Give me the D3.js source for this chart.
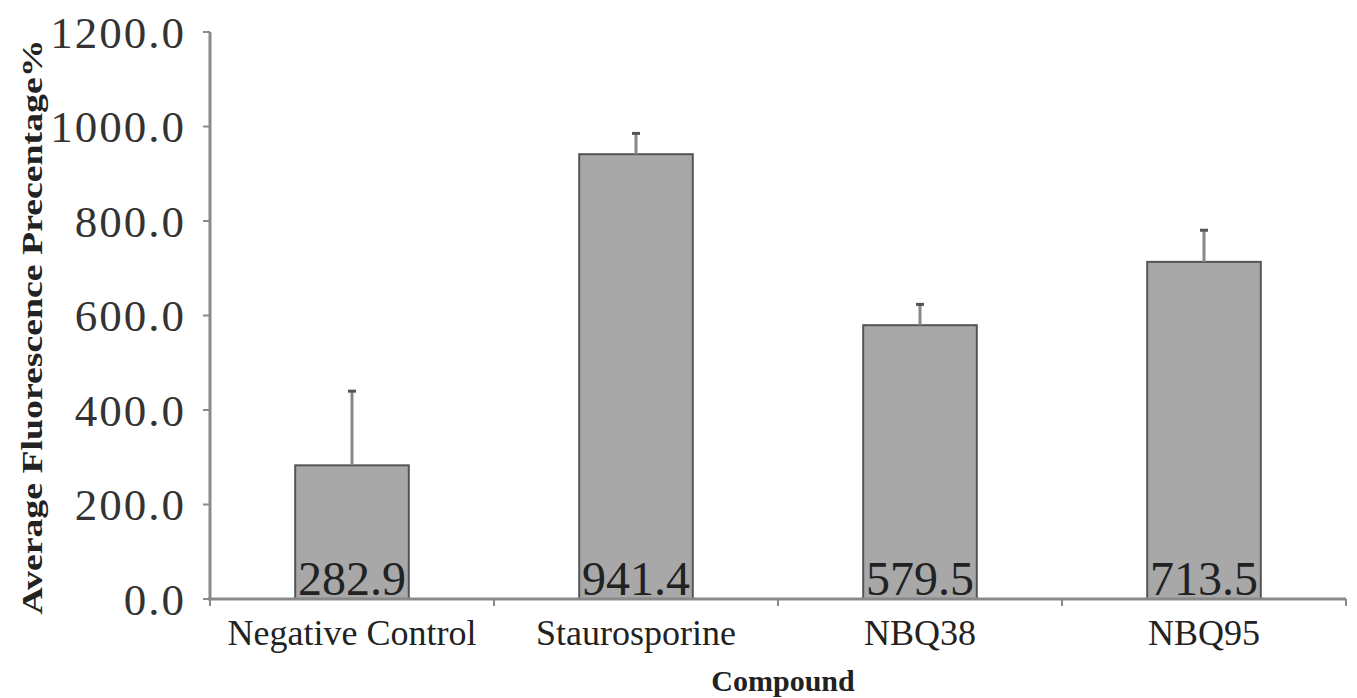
<!DOCTYPE html>
<html><head><meta charset="utf-8">
<script src="https://cdn.jsdelivr.net/npm/d3@7"></script>
<style>body{margin:0;background:#fff}svg{display:block}</style>
</head><body>
<svg id="c" width="1357" height="698"></svg>
<script>
const categories = ["Negative Control", "Staurosporine", "NBQ38", "NBQ95"];
const values = [282.9, 941.4, 579.5, 713.5];
const errors = [157, 44, 44, 67];
const yTicks = [0, 200, 400, 600, 800, 1000, 1200];

const svg = d3.select("#c");
const x = d3.scaleBand().domain(categories).range([210, 1346]).paddingInner(0.6).paddingOuter(0.3);
const y = d3.scaleLinear().domain([0, 1200]).range([599, 32]);
const font = "'Liberation Serif','Times New Roman',serif";
const axisColor = "#8a8a8a";

// y axis
svg.append("line").attr("x1", 210).attr("x2", 210).attr("y1", y(1200)).attr("y2", y(0))
  .attr("stroke", axisColor).attr("stroke-width", 3);
svg.selectAll(".yt").data(yTicks).enter().append("line")
  .attr("x1", 203).attr("x2", 210).attr("y1", d => y(d)).attr("y2", d => y(d))
  .attr("stroke", axisColor).attr("stroke-width", 2);
svg.selectAll(".yl").data(yTicks).enter().append("text")
  .attr("x", 186).attr("y", d => y(d)).attr("dy", "0.35em")
  .attr("text-anchor", "end").attr("font-family", font).attr("font-size", 45)
  .attr("letter-spacing", 2)
  .attr("fill", "#333").text(d => d3.format(".1f")(d));

// bars
svg.selectAll(".bar").data(categories).enter().append("rect")
  .attr("x", d => x(d)).attr("width", x.bandwidth())
  .attr("y", (d, i) => y(values[i])).attr("height", (d, i) => y(0) - y(values[i]))
  .attr("fill", "#a8a8a8").attr("stroke", "#555").attr("stroke-width", 2);

// error bars
svg.selectAll(".err").data(categories).enter().append("line")
  .attr("x1", d => x(d) + x.bandwidth() / 2).attr("x2", d => x(d) + x.bandwidth() / 2)
  .attr("y1", (d, i) => y(values[i])).attr("y2", (d, i) => y(values[i] + errors[i]))
  .attr("stroke", "#888").attr("stroke-width", 3);
svg.selectAll(".cap").data(categories).enter().append("line")
  .attr("x1", d => x(d) + x.bandwidth() / 2 - 4).attr("x2", d => x(d) + x.bandwidth() / 2 + 4)
  .attr("y1", (d, i) => y(values[i] + errors[i])).attr("y2", (d, i) => y(values[i] + errors[i]))
  .attr("stroke", "#555").attr("stroke-width", 3);

// x axis
svg.append("line").attr("x1", 208).attr("x2", 1346).attr("y1", y(0)).attr("y2", y(0))
  .attr("stroke", axisColor).attr("stroke-width", 3);
const bounds = [210].concat(categories.map(d => x(d) + x.bandwidth() + x.step() * 0.3));
svg.selectAll(".xt").data(bounds).enter().append("line")
  .attr("x1", d => d).attr("x2", d => d).attr("y1", y(0)).attr("y2", y(0) + 7)
  .attr("stroke", axisColor).attr("stroke-width", 2);

// value labels
svg.selectAll(".vl").data(categories).enter().append("text")
  .attr("x", d => x(d) + x.bandwidth() / 2).attr("y", y(0) - 4)
  .attr("text-anchor", "middle").attr("font-family", font).attr("font-size", 48)
  .attr("fill", "#222").text((d, i) => d3.format(".1f")(values[i]));

// category labels
svg.selectAll(".cl").data(categories).enter().append("text")
  .attr("x", d => x(d) + x.bandwidth() / 2).attr("y", 645)
  .attr("text-anchor", "middle").attr("font-family", font).attr("font-size", 36)
  .attr("fill", "#222").text(d => d);

// axis titles
svg.append("text").attr("x", 783).attr("y", 691).attr("text-anchor", "middle")
  .attr("font-family", font).attr("font-size", 30).attr("font-weight", "bold")
  .attr("fill", "#222").text("Compound");
svg.append("text").attr("transform", "translate(42,327) rotate(-90)")
  .attr("text-anchor", "middle").attr("font-family", font).attr("font-size", 30)
  .attr("font-weight", "bold").attr("fill", "#222")
  .attr("textLength", 575).attr("lengthAdjust", "spacingAndGlyphs")
  .text("Average Fluorescence Precentage%");
</script>
</body></html>
